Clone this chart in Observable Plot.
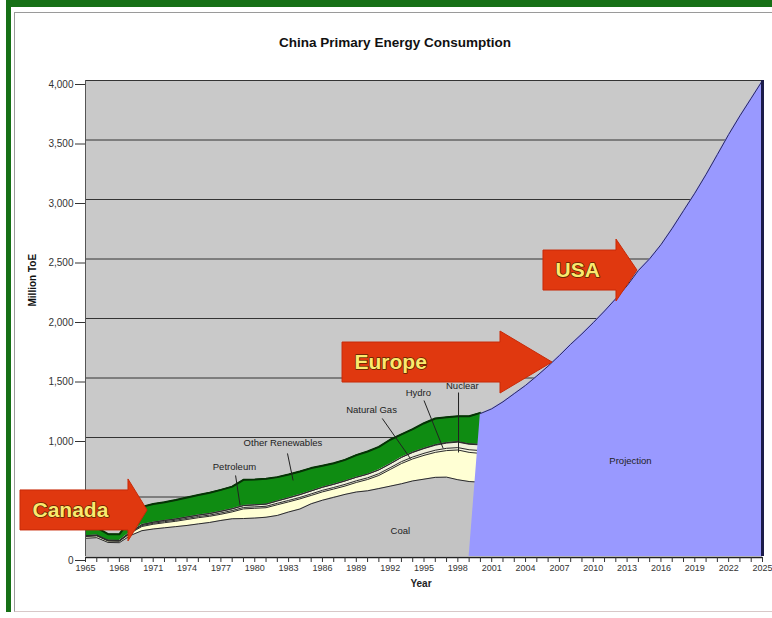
<!DOCTYPE html>
<html>
<head>
<meta charset="utf-8">
<script src="https://cdn.jsdelivr.net/npm/d3@7"></script>
<script src="https://cdn.jsdelivr.net/npm/@observablehq/plot@0.6"></script>
<style>
  body { margin: 0; background: #fff; font-family: "Liberation Sans", Arial, sans-serif; }
  #page { position: absolute; left: 0; top: 0; width: 772px; height: 618px; overflow: hidden; background: #fff; }
  #outer { position: absolute; left: 6px; top: 0; width: 766px; height: 612px; border-left: 5px solid #167016; border-top: 7px solid #167016; box-sizing: border-box; }
  #inner { position: absolute; left: 14px; top: 12px; width: 758px; height: 600px; border-left: 1px solid #9a9a9a; border-top: 1px solid #9a9a9a; border-bottom: 1px solid #d8c8c8; box-sizing: border-box; }
  #title { position: absolute; left: 0; top: 35px; width: 790px; text-align: center; font-weight: bold; font-size: 13.5px; line-height: 16px; color: #111; }
  #chart { position: absolute; left: 0; top: 60px; }
</style>
</head>
<body>
<div id="page">
  <div id="outer"></div>
  <div id="inner"></div>
  <div id="title">China Primary Energy Consumption</div>
  <div id="chart"></div>
</div>
<script>
// ---- Historical data (Million ToE), 1965-2000 ----
const years = [1965,1966,1967,1968,1969,1970,1971,1972,1973,1974,1975,1976,1977,1978,1979,1980,1981,1982,1983,1984,1985,1986,1987,1988,1989,1990,1991,1992,1993,1994,1995,1996,1997,1998,1999,2000];
const coal = [153,158,118,116,177,217,231,241,251,261,274,286,303,317,319,323,330,345,374,399,443,473,497,522,542,552,571,591,611,635,650,665,667,645,630,624];
const petroleum = [15,15,12,12,20,35,40,43,45,50,52,52,52,58,81,82,80,90,85,85,70,70,70,70,80,95,110,140,170,185,200,210,223,250,245,242];
const naturalGas = [3,3,3,3,5,8,8,9,9,10,10,10,11,11,12,12,12,12,12,12,13,13,13,14,14,14,15,15,16,16,17,18,19,20,22,24];
const hydro = [4,4,4,4,5,8,9,10,10,11,12,13,14,15,16,17,18,20,22,24,25,26,27,29,30,31,32,33,36,38,40,42,44,46,46,48];
const nuclear = [0,0,0,0,0,0,0,0,0,0,0,0,0,0,0,0,0,0,0,0,0,0,0,0,0,0,0,0,0,3,3,4,4,4,4,4];
const otherRenewables = [63,63,51,51,110,149,153,153,159,164,168,175,180,186,216,213,213,200,196,194,192,181,176,177,186,190,193,202,193,193,210,221,213,213,231,265];

// ---- Projection (Million ToE) ----
const projYears = [1999,2000,2001,2002,2003,2004,2005,2006,2007,2008,2009,2010,2011,2012,2013,2014,2015,2016,2017,2018,2019,2020,2021,2022,2023,2024,2025];
const projValues = [0,1201,1241,1300,1369,1438,1517,1600,1689,1783,1871,1965,2063,2167,2275,2403,2502,2620,2758,2906,3053,3211,3378,3546,3703,3851,4000];

// ---- Axes ----
// (the 500 label is hidden under the Canada arrow in the original)
const yTickLabels = [0,1000,1500,2000,2500,3000,3500,4000];
const gridValues = [500,1000,1500,2000,2500,3000,3500,4000];
const xLabelYears = [1965,1968,1971,1974,1977,1980,1983,1986,1989,1992,1995,1998,2001,2004,2007,2010,2013,2016,2019,2022,2025];
const xTickYears = d3.range(1965, 2026);

// ---- Series ----
const sources = ["Coal","Petroleum","Natural Gas","Hydro","Nuclear","Other Renewables"];
const sourceColors = ["#c3c3c3","#ffffd4","#f6f6e2","#f0f0dc","#111111","#0f8c12"];

// ---- Annotations (data coordinates) ----
const noteLabels = ["Coal","Projection","Petroleum","Other Renewables","Natural Gas","Hydro","Nuclear"];
const noteYears = [1992.9,2013.3,1978.2,1982.5,1990.35,1994.5,1998.4];
const noteValues = [218,807,756,950,1235,1378,1437];
const leaderFromYear = [1978.3,1982.9,1991.3,1995.0,1998.06];
const leaderFromValue = [681,866,1160,1311,1378];
const leaderToYear = [1978.7,1983.4,1993.8,1996.7,1998.06];
const leaderToValue = [429,639,823,908,874];

// ---- Comparison arrows ----
const arrowLabels = ["Canada","Europe","USA"];
const arrowStart = [1959.24,1987.78,2005.59];
const arrowHeadStart = [1968.81,2001.78,2012.06];
const arrowTip = [1970.5,2006.39,2013.92];
const arrowLevel = [387,1630,2403];

// Build tables
const table = [];
years.forEach((year, i) => {
  const vals = [coal[i], petroleum[i], naturalGas[i], hydro[i], nuclear[i], otherRenewables[i]];
  sources.forEach((s, j) => table.push({year, source: s, value: vals[j]}));
});
const totals = years.map((year, i) => ({year, value: coal[i]+petroleum[i]+naturalGas[i]+hydro[i]+nuclear[i]+otherRenewables[i]}));
const projection = projYears.map((year, i) => ({year, value: projValues[i]}));
const notes = noteLabels.map((label, i) => ({label, year: noteYears[i], value: noteValues[i]}));
const leaders = leaderFromYear.map((y, i) => ({x1: y, y1: leaderFromValue[i], x2: leaderToYear[i], y2: leaderToValue[i]}));
const arrows = arrowLabels.map((label, i) => ({label, start: arrowStart[i], headStart: arrowHeadStart[i], tip: arrowTip[i], level: arrowLevel[i]}));

function arrowShapes(index, scales) {
  const g = d3.create("svg:g");
  const bh = 20, hh = 31;
  for (const a of arrows) {
    const x0 = scales.x(a.start), xh = scales.x(a.headStart), xt = scales.x(a.tip), yc = scales.y(a.level);
    g.append("path")
      .attr("d", `M${x0},${yc-bh}L${xh},${yc-bh}L${xh},${yc-hh}L${xt},${yc}L${xh},${yc+hh}L${xh},${yc+bh}L${x0},${yc+bh}Z`)
      .attr("fill", "#e0380f")
      .attr("stroke", "#c82a08")
      .attr("stroke-width", 1);
  }
  return g.node();
}

const chart = Plot.plot({
  width: 772,
  height: 558,
  marginTop: 20,
  marginBottom: 62,
  marginLeft: 85,
  marginRight: 10,
  x: {domain: [1965, 2025], label: null},
  y: {domain: [0, 4000], label: null},
  color: {domain: sources, range: sourceColors},
  style: {fontFamily: "'Liberation Sans', Arial, sans-serif", color: "#333", background: "transparent", overflow: "visible"},
  marks: [
    Plot.frame({fill: "#c9c9c9", stroke: null}),
    Plot.ruleY(gridValues, {stroke: "#333", strokeWidth: 1}),
    Plot.areaY(table, Plot.stackY({x: "year", y: "value", z: "source", fill: "source", order: sources})),
    Plot.lineY(table, Plot.stackY2({x: "year", y: "value", z: "source", order: sources, stroke: "#2b2b2b", strokeWidth: 1})),
    Plot.lineY(totals, {x: "year", y: "value", stroke: "#053305", strokeWidth: 2}),
    Plot.areaY(projection, {x: "year", y: "value", fill: "#9999ff"}),
    Plot.lineY(projection.filter(d => d.year >= 2000), {x: "year", y: "value", stroke: "#2a2a5a", strokeWidth: 1}),
    Plot.ruleX(projection.filter(d => d.year === 2025), {x: "year", y1: 0, y2: "value", stroke: "#1c1c4a", strokeWidth: 3}),
    Plot.ruleX([1965], {stroke: "#555", strokeWidth: 1}),
    Plot.ruleY([0], {dy: 1, stroke: "#222", strokeWidth: 1.5}),
    Plot.link(leaders, {x1: "x1", y1: "y1", x2: "x2", y2: "y2", stroke: "#222", strokeWidth: 1}),
    Plot.text(notes, {x: "year", y: "value", text: "label", fontSize: 9.5, fill: "#222"}),
    Plot.axisY({ticks: yTickLabels, tickFormat: d3.format(","), tickSize: 10, tickPadding: 2, dy: 4, fontSize: 10}),
    Plot.axisX({ticks: xTickYears, tickSize: 5, tickFormat: () => "", dy: 1}),
    Plot.axisX({ticks: xLabelYears, tickSize: 0, tickPadding: 7, dy: 1, fontSize: 9, tickFormat: d => String(d)}),
    Plot.text(["Year"], {frameAnchor: "bottom", dx: -3, dy: 30, fontSize: 10, fontWeight: "bold", fill: "#222"}),
    Plot.text(["Million ToE"], {frameAnchor: "left", rotate: -90, dx: -53, dy: -12, fontSize: 10, fontWeight: "bold", fill: "#111"}),
    arrowShapes,
    Plot.text(arrows, {x: "start", y: "level", text: "label", dx: 12, textAnchor: "start", fontSize: 21, fontWeight: "bold", fill: "#fbe96e", stroke: "#5a2400", strokeWidth: 1.5})
  ]
});
document.getElementById("chart").appendChild(chart);
</script>
</body>
</html>
